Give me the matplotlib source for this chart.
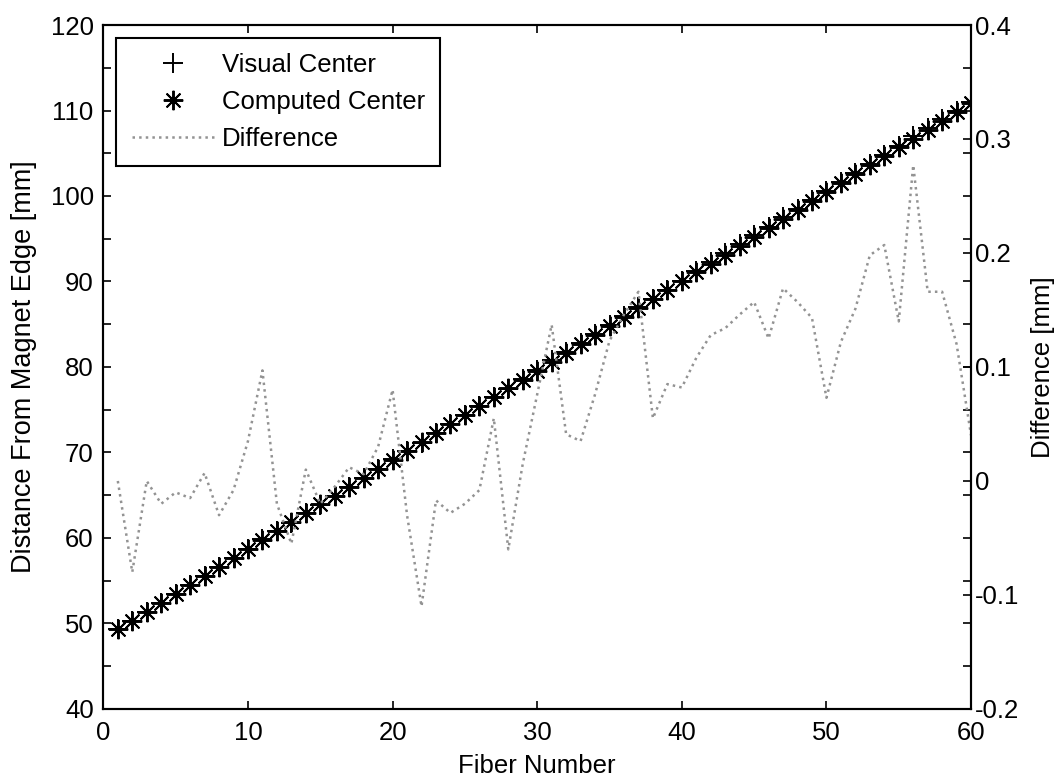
import numpy as np
import matplotlib.pyplot as plt

plt.rcParams['font.family'] = ['Liberation Sans', 'DejaVu Sans']
plt.rcParams['font.size'] = 18.5

# fiber positions [mm] and visual - computed difference [mm]
fiber = list(range(1, 61))

computed = [49.30, 50.34, 51.39, 52.43, 53.48, 54.52, 55.56, 56.61, 57.65, 58.70,
            59.74, 60.78, 61.83, 62.87, 63.92, 64.96, 66.00, 67.05, 68.09, 69.14,
            70.18, 71.22, 72.27, 73.31, 74.36, 75.40, 76.44, 77.49, 78.53, 79.58,
            80.62, 81.66, 82.71, 83.75, 84.80, 85.84, 86.88, 87.93, 88.97, 90.02,
            91.06, 92.10, 93.15, 94.19, 95.24, 96.28, 97.32, 98.37, 99.41, 100.46,
            101.50, 102.54, 103.59, 104.63, 105.68, 106.72, 107.76, 108.81, 109.85, 110.90]

visual = [49.30, 50.26, 51.39, 52.41, 53.47, 54.51, 55.57, 56.58, 57.64, 58.74,
          59.84, 60.76, 61.78, 62.88, 63.90, 64.96, 66.01, 67.06, 68.12, 69.22,
          70.15, 71.11, 72.25, 73.28, 74.34, 75.39, 76.50, 77.43, 78.55, 79.66,
          80.76, 81.70, 82.75, 83.83, 84.92, 85.99, 87.05, 87.99, 89.06, 90.10,
          91.17, 92.23, 93.28, 94.34, 95.40, 96.41, 97.49, 98.53, 99.55, 100.53,
          101.62, 102.69, 103.79, 104.84, 105.82, 107.00, 107.93, 108.98, 109.97, 110.94]

difference = [0.000, -0.080, 0.000, -0.020, -0.010, -0.015, 0.007, -0.030, -0.008, 0.035,
              0.097, -0.020, -0.055, 0.010, -0.020, -0.005, 0.012, 0.006, 0.030, 0.080,
              -0.030, -0.110, -0.017, -0.028, -0.020, -0.008, 0.055, -0.060, 0.015, 0.076,
              0.137, 0.041, 0.035, 0.076, 0.123, 0.146, 0.166, 0.055, 0.085, 0.082,
              0.108, 0.128, 0.134, 0.146, 0.157, 0.125, 0.169, 0.157, 0.143, 0.073,
              0.122, 0.151, 0.198, 0.207, 0.140, 0.277, 0.166, 0.166, 0.120, 0.040]

xticks = [0, 10, 20, 30, 40, 50, 60]
yticks = list(range(40, 121, 5))
ylabels = [str(v) if v % 10 == 0 else '' for v in yticks]
rticks = [-0.2, -0.1, 0, 0.1, 0.2, 0.3, 0.4]
rlabels = ['-0.2', '-0.1', '0', '0.1', '0.2', '0.3', '0.4']

fig = plt.figure(figsize=(10.6, 7.79), dpi=100)
ax = fig.add_axes([0.0975, 0.0899, 0.8186, 0.878])
ax2 = ax.twinx()

# MATLAB style asterisk = plus + cross
l1, = ax.plot(fiber, visual, linestyle='none', marker='+', color='k',
              markersize=15, markeredgewidth=1.4)
l2, = ax.plot(fiber, computed, linestyle='none', marker=(8, 2, 0), color='k',
              markersize=14, markeredgewidth=1.4)
l3, = ax2.plot(fiber, difference, linestyle=':', color='#939393', linewidth=1.8)

ax.set_xlim(0, 60)
ax.set_ylim(40, 120)
ax2.set_ylim(-0.2, 0.4)

ax.set_xticks(xticks)
ax.set_yticks(yticks)
ax.set_yticklabels(ylabels)
ax2.set_yticks(rticks)
ax2.set_yticklabels(rlabels)

ax.tick_params(direction='in', length=6, width=1.2, top=True, right=True, pad=7)
ax.tick_params(axis='x', pad=9)
ax2.tick_params(direction='in', length=6, width=1.2, pad=3)

for a in (ax, ax2):
    for s in a.spines.values():
        s.set_linewidth(1.5)

ax.set_xlabel('Fiber Number', labelpad=6)
ax.set_ylabel('Distance From Magnet Edge [mm]', fontsize=19.5, labelpad=10)
ax2.set_ylabel('Difference [mm]', labelpad=8)

leg = ax2.legend([l1, l2, l3], ['Visual Center', 'Computed Center', 'Difference'],
                 loc='upper left', fancybox=False, framealpha=1, edgecolor='k',
                 borderaxespad=0.5, handlelength=3.2, handletextpad=0.3,
                 labelspacing=0.5, borderpad=0.6)
leg.get_frame().set_linewidth(1.5)

plt.savefig('out.png', dpi=100)
